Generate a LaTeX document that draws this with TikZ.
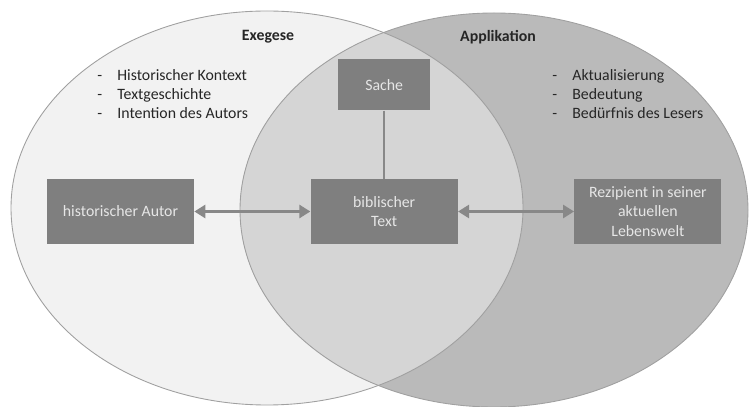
\documentclass[tikz,border=0pt]{standalone}
\usepackage{fontspec}
\setmainfont{Carlito}
\setsansfont{Carlito}
\usetikzlibrary{arrows.meta, positioning}
\definecolor{cleft}{HTML}{F2F2F2}
\definecolor{cright}{HTML}{BABABA}
\definecolor{cboth}{HTML}{D5D5D5}
\definecolor{cline}{HTML}{A0A0A0}
\definecolor{cbox}{HTML}{7F7F7F}
\definecolor{carrow}{HTML}{888888}
\definecolor{cboxtext}{HTML}{E6E6E6}
\definecolor{ctext}{HTML}{262626}
\tikzset{
  every picture/.style={font=\sffamily\fontsize{9}{11}\selectfont},
  box/.style={fill=cbox, text=cboxtext, align=center, inner sep=2pt, minimum width=2.94cm, minimum height=1.3cm},
  arrow/.style={{Triangle[length=2.2mm, width=2.6mm]}-{Triangle[length=2.2mm, width=2.6mm]}, draw=carrow, line width=1.5pt},
  link/.style={draw=carrow, line width=1.4pt},
  title/.style={font=\sffamily\bfseries\fontsize{9}{11}\selectfont, text=ctext},
  note/.style={text=ctext, align=left, inner sep=0pt, anchor=north west},
}
\newcommand{\bulletdash}{\makebox[0.4cm][l]{-}}

\begin{document}
\begin{tikzpicture}[node distance=1.36cm and 2.32cm]
  \useasboundingbox (0,0) rectangle (14.98,8.14);
  % the two circles
  \fill[cleft] (5.34,3.98) ellipse [x radius=5.12cm, y radius=3.94cm];
  \fill[cright] (9.88,3.94) ellipse [x radius=5.08cm, y radius=3.94cm];
  \begin{scope}
    \clip (5.34,3.98) ellipse [x radius=5.12cm, y radius=3.94cm];
    \fill[cboth] (9.88,3.94) ellipse [x radius=5.08cm, y radius=3.94cm];
  \end{scope}
  \draw[cline, line width=0.5pt] (5.34,3.98) ellipse [x radius=5.12cm, y radius=3.94cm];
  \draw[cline, line width=0.5pt] (9.88,3.94) ellipse [x radius=5.08cm, y radius=3.94cm];

  \node[title] (exe) at (5.36,7.4) {Exegese};
  \node[title] (app) at (9.96,7.4) {Applikation};
  \node[note] (exelist) at (1.94,6.76) {\bulletdash Historischer Kontext\\\bulletdash Textgeschichte\\\bulletdash Intention des Autors};
  \node[note] (applist) at (11.04,6.76) {\bulletdash Aktualisierung\\\bulletdash Bedeutung\\\bulletdash Bedürfnis des Lesers};

  \node[box] (autor) at (2.41,3.91) {historischer Autor};
  \node[box, right=of autor] (text) {biblischer\\Text};
  \node[box, right=of text] (rez) {Rezipient in seiner\\aktuellen\\Lebenswelt};
  \node[box, above=of text, minimum width=1.84cm, minimum height=1.02cm] (sache) {Sache};

  \draw[arrow] (autor) -- (text);
  \draw[arrow] (text) -- (rez);
  \draw[link] (sache) -- (text);
\end{tikzpicture}
\end{document}
